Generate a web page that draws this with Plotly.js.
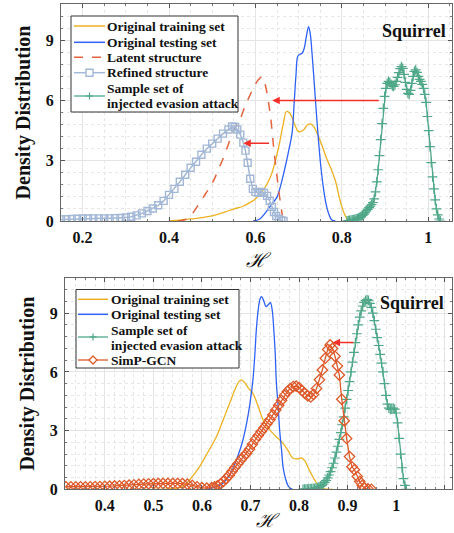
<!DOCTYPE html>
<html><head><meta charset="utf-8">
<script src="https://cdn.plot.ly/plotly-3.0.1.min.js"></script>
<style>html,body{margin:0;padding:0;background:#fff;}#g{width:454px;height:533px;}</style>
</head><body><div id="g"></div>
<script>
// ---------- TOP PANEL ----------
const topTrainX = [0.40,0.45,0.50,0.53,0.55,0.57,0.59,0.605,0.62,0.635,0.645,0.655,0.665,0.672,0.68,0.69,0.70,0.71,0.72,0.727,0.735,0.745,0.755,0.765,0.775,0.785,0.795,0.805,0.815];
const topTrainY = [0,0.1,0.25,0.45,0.6,0.72,0.95,1.2,1.6,2.2,2.9,3.8,4.9,5.45,5.35,4.85,4.45,4.5,4.78,4.83,4.7,4.25,3.7,3.1,2.6,2.0,1.1,0.4,0];

const topTestX = [0.595,0.61,0.623,0.635,0.65,0.66,0.669,0.678,0.685,0.69,0.694,0.698,0.703,0.708,0.713,0.718,0.723,0.727,0.731,0.735,0.739,0.746,0.751,0.757,0.763,0.769,0.777,0.785];
const topTestY = [0,0.1,0.4,0.75,1.2,1.9,2.7,3.6,4.4,6.0,7.3,8.2,8.3,8.35,8.6,9.2,9.67,9.3,8.35,7.2,6.0,4.0,2.8,1.7,0.9,0.4,0.05,0];

const latentX = [0.42,0.435,0.447,0.457,0.468,0.48,0.492,0.504,0.515,0.527,0.537,0.546,0.556,0.565,0.575,0.585,0.595,0.604,0.61,0.615,0.621,0.627,0.631,0.635,0.642,0.65,0.658,0.665,0.67];
const latentY = [0,0.05,0.2,0.45,0.8,1.2,1.6,2.05,2.6,3.2,3.8,4.35,4.75,5.1,5.65,6.15,6.6,6.95,7.1,7.18,6.9,6.35,5.8,5.2,3.7,2.2,0.9,0.1,0];

const refinedX = [0.15,0.1625,0.175,0.1875,0.2,0.2125,0.225,0.2375,0.25,0.2625,0.275,0.2875,0.3,0.3125,0.325,0.3375,0.35,0.3625,0.375,0.3875,0.4,0.4125,0.425,0.4375,0.45,0.4625,0.475,0.4875,0.5,0.5125,0.525,0.5375,0.546,0.553,0.558,0.565,0.572,0.577,0.582,0.588,0.594,0.6,0.607,0.614,0.62,0.627,0.633,0.638,0.643,0.648,0.654,0.66,0.665];
const refinedY = [0.08,0.09,0.1,0.11,0.12,0.12,0.13,0.13,0.13,0.13,0.14,0.15,0.17,0.21,0.28,0.38,0.5,0.62,0.78,1.0,1.3,1.6,1.95,2.3,2.65,2.95,3.3,3.6,3.85,4.1,4.35,4.55,4.7,4.68,4.55,4.3,3.9,3.5,2.9,2.1,1.6,1.45,1.4,1.45,1.4,1.25,1.0,0.7,0.45,0.25,0.1,0.03,0];

const topAttackX = [0.812,0.815,0.818,0.821,0.824,0.827,0.830,0.833,0.836,0.839,0.842,0.845,0.848,0.851,0.854,0.857,0.860,0.863,0.866,0.869,0.872,0.875,0.878,0.881,0.884,0.887,0.890,0.893,0.896,0.899,0.902,0.905,0.908,0.911,0.914,0.917,0.920,0.923,0.926,0.929,0.932,0.935,0.938,0.941,0.944,0.947,0.950,0.953,0.956,0.959,0.962,0.965,0.968,0.971,0.974,0.977,0.980,0.983,0.986,0.989,0.992,0.995,0.998,1.001,1.004,1.007,1.010,1.013,1.016,1.019,1.022,1.025,1.028];
const topAttackY = [0,0.02,0.03,0.04,0.05,0.07,0.08,0.1,0.12,0.15,0.19,0.23,0.28,0.34,0.41,0.5,0.58,0.66,0.74,0.82,0.92,1.1,1.45,1.95,2.55,3.25,4.05,4.85,5.6,6.2,6.6,6.85,6.95,6.9,6.8,6.72,6.7,6.78,6.95,7.15,7.38,7.58,7.68,7.6,7.3,6.9,6.55,6.35,6.3,6.5,6.85,7.2,7.45,7.52,7.4,7.2,7.05,6.95,6.8,6.6,6.3,5.9,5.2,4.5,3.7,2.9,2.2,1.6,1.05,0.6,0.3,0.1,0];

// ---------- BOTTOM PANEL ----------
const botTrainX = [0.50,0.53,0.555,0.568,0.58,0.595,0.61,0.63,0.643,0.657,0.668,0.676,0.681,0.688,0.695,0.705,0.715,0.726,0.736,0.746,0.757,0.767,0.777,0.787,0.797,0.805,0.812,0.818,0.825,0.832,0.84,0.849,0.87];
const botTrainY = [0,0.02,0.1,0.3,0.65,1.15,1.8,2.7,3.5,4.4,5.1,5.5,5.59,5.45,5.2,4.9,4.3,3.54,3.15,2.86,2.6,2.35,2.0,1.6,1.55,1.6,1.45,1.15,0.8,0.48,0.2,0.05,0];

const botTestX = [0.609,0.625,0.64,0.65,0.661,0.671,0.682,0.692,0.699,0.705,0.709,0.712,0.716,0.72,0.723,0.727,0.732,0.737,0.741,0.745,0.748,0.751,0.753,0.757,0.76,0.764,0.767,0.772,0.777,0.782,0.787];
const botTestY = [0,0.1,0.25,0.48,0.9,1.5,2.3,3.37,4.4,5.59,6.9,8.14,9.2,9.75,9.85,9.65,9.34,9.45,9.54,9.1,8.14,6.9,5.59,4.2,3.03,2.0,1.15,0.55,0.2,0.05,0];

const botAttackX = [0.808,0.811,0.814,0.817,0.820,0.823,0.826,0.829,0.832,0.835,0.838,0.841,0.844,0.847,0.850,0.853,0.856,0.859,0.862,0.865,0.868,0.871,0.874,0.877,0.880,0.883,0.886,0.889,0.892,0.895,0.898,0.901,0.904,0.907,0.910,0.913,0.916,0.919,0.922,0.925,0.928,0.931,0.934,0.937,0.940,0.943,0.946,0.949,0.952,0.955,0.958,0.961,0.964,0.967,0.970,0.973,0.976,0.979,0.982,0.985,0.988,0.991,0.994,0.997,1.000,1.003,1.006,1.009,1.012,1.015,1.018,1.021];
const botAttackY = [0,0.01,0.01,0.02,0.02,0.03,0.03,0.04,0.05,0.07,0.09,0.12,0.16,0.21,0.27,0.35,0.45,0.58,0.73,0.9,1.1,1.33,1.6,1.9,2.2,2.55,2.9,3.3,3.7,4.15,4.6,5.05,5.5,6.0,6.5,7.0,7.5,7.95,8.4,8.8,9.12,9.37,9.55,9.66,9.7,9.66,9.5,9.3,9.0,8.62,8.18,7.75,7.35,6.9,6.45,6.0,5.4,4.8,4.35,4.15,4.08,4.1,4.15,4.1,3.9,3.4,2.6,1.8,1.1,0.55,0.2,0];

const simpX = [0.32,0.33,0.34,0.35,0.36,0.37,0.38,0.39,0.40,0.41,0.42,0.43,0.44,0.45,0.46,0.47,0.48,0.49,0.50,0.51,0.52,0.53,0.54,0.55,0.56,0.57,0.58,0.59,0.60,0.61,0.62,0.626,0.632,0.638,0.644,0.65,0.656,0.662,0.668,0.674,0.68,0.686,0.692,0.698,0.704,0.71,0.716,0.722,0.728,0.734,0.74,0.746,0.752,0.758,0.764,0.77,0.776,0.782,0.788,0.794,0.80,0.806,0.812,0.818,0.824,0.83,0.836,0.842,0.848,0.854,0.859,0.864,0.869,0.874,0.879,0.883,0.888,0.893,0.898,0.904,0.909,0.914,0.92,0.925,0.93,0.935,0.942,0.949];
const simpY = [0.13,0.13,0.13,0.13,0.13,0.13,0.14,0.14,0.15,0.16,0.17,0.18,0.19,0.21,0.23,0.25,0.27,0.28,0.29,0.3,0.3,0.3,0.3,0.3,0.29,0.26,0.2,0.13,0.08,0.06,0.08,0.12,0.18,0.27,0.4,0.55,0.72,0.92,1.12,1.3,1.5,1.67,1.84,2.05,2.3,2.55,2.75,2.95,3.15,3.35,3.55,3.8,4.05,4.3,4.55,4.8,5.0,5.15,5.25,5.27,5.2,5.05,4.9,4.78,4.72,4.85,5.15,5.6,6.1,6.7,7.15,7.38,7.2,6.8,6.3,5.84,4.6,3.5,2.6,1.67,1.15,1.0,0.65,0.4,0.2,0.05,0.02,0];

// ---------- labels ----------
const lblTrain = "Original training set";
const lblTest = "Original testing set";
const lblLatent = "Latent structure";
const lblRefined = "Refined structure";
const lblAttack1 = "Sample set of";
const lblAttack2 = "injected evasion attack";
const lblSimp = "SimP-GCN";
const panelName = "Squirrel";
const yTitle = "Density Distribution";
const xTitle = "ℋ";
const topTicks = [0.2,0.4,0.6,0.8,1];
const topTickText = ["0.2","0.4","0.6","0.8","1"];
const botTicks = [0.4,0.5,0.6,0.7,0.8,0.9,1.0,1.1];
const botTickText = ["0.4","0.5","0.6","0.7","0.8","0.9","1","1.1"];
const yTicks = [0,3,6,9];

const C = {train:'#EDB120', test:'#2E62F5', latent:'#E4643E', refined:'#A3B8D6', attack:'#4FA888', simp:'#DD5A2B'};
const serif = 'Liberation Serif, Times New Roman, serif';

const traces = [
  {x:topTrainX,y:topTrainY,name:lblTrain,mode:'lines',line:{color:C.train,width:1.3,shape:'spline'},xaxis:'x',yaxis:'y'},
  {x:topTestX,y:topTestY,name:lblTest,mode:'lines',line:{color:C.test,width:1.3,shape:'spline'},xaxis:'x',yaxis:'y'},
  {x:latentX,y:latentY,name:lblLatent,mode:'lines',line:{color:C.latent,width:1.5,dash:'dash',shape:'spline'},xaxis:'x',yaxis:'y'},
  {x:refinedX,y:refinedY,name:lblRefined,mode:'lines+markers',line:{color:C.refined,width:1.5},marker:{symbol:'square-open',size:7,color:C.refined,line:{width:1.4}},xaxis:'x',yaxis:'y'},
  {x:topAttackX,y:topAttackY,name:'attack',mode:'lines+markers',line:{color:C.attack,width:1.3},marker:{symbol:'cross-thin-open',size:7,color:C.attack,line:{width:1.2,color:C.attack}},xaxis:'x',yaxis:'y'},

  {x:botTrainX,y:botTrainY,name:lblTrain,mode:'lines',line:{color:C.train,width:1.3,shape:'spline'},xaxis:'x2',yaxis:'y2'},
  {x:botTestX,y:botTestY,name:lblTest,mode:'lines',line:{color:C.test,width:1.3,shape:'spline'},xaxis:'x2',yaxis:'y2'},
  {x:botAttackX,y:botAttackY,name:'attack',mode:'lines+markers',line:{color:C.attack,width:1.3},marker:{symbol:'cross-thin-open',size:7,color:C.attack,line:{width:1.2,color:C.attack}},xaxis:'x2',yaxis:'y2'},
  {x:simpX,y:simpY,name:lblSimp,mode:'lines+markers',line:{color:C.simp,width:1.3},marker:{symbol:'diamond-open',size:8,color:C.simp,line:{width:1.3}},xaxis:'x2',yaxis:'y2'}
];

const tickFont = {family:serif,size:16,color:'#111',weight:'bold'};
function xAx(domain, range, tv, tt, minorD, anchor, withTitle){
  const a = {domain:domain, range:range, anchor:anchor, tickmode:'array', tickvals:tv, ticktext:tt,
    ticks:'inside', ticklen:4, tickcolor:'#555', showline:true, linecolor:'#666', linewidth:1, mirror:'ticks',
    showgrid:true, gridcolor:'#e4e4e4', gridwidth:1, zeroline:false, tickfont:tickFont, ticklabelstandoff:2,
    minor:{dtick:minorD, showgrid:true, gridcolor:'#e6e6e6', griddash:'dot', ticks:'inside', ticklen:2, tickcolor:'#777'}};
  if (withTitle) a.title = {text:xTitle, font:{family:'DejaVu Serif, serif', size:20, color:'#111', style:'italic'}, standoff:7};
  return a;
}
function yAx(domain, anchor){
  return {domain:domain, range:[0,10.8], anchor:anchor, tickmode:'array', tickvals:yTicks,
    ticks:'inside', ticklen:4, tickcolor:'#555', showline:true, linecolor:'#666', linewidth:1, mirror:'ticks',
    showgrid:true, gridcolor:'#e4e4e4', zeroline:false, tickfont:tickFont, ticklabelstandoff:3,
    minor:{dtick:0.6, showgrid:true, gridcolor:'#e6e6e6', griddash:'dot', ticks:'inside', ticklen:2, tickcolor:'#777'},
    title:{text:yTitle, font:{family:serif, size:20, color:'#111', weight:'bold'}, standoff:9}};
}
const arrow = (x,y,ax,ay,xr,yr)=>({x:x,y:y,ax:ax,ay:ay,xref:xr,yref:yr,axref:xr,ayref:yr,text:'',showarrow:true,arrowhead:2,arrowsize:1,arrowwidth:1.5,arrowcolor:'#F2302A',standoff:0,startstandoff:0});

// ----- hand-built legends (pixel positions -> paper fractions) -----
const W = 454, H = 533;
const px = v => v / W, py = v => 1 - v / H;
const legShapes = [];
const legAnn = [];
const legFont = {family:serif, size:13.5, color:'#111', weight:'bold'};
function box(x0,y0,x1,y1){ legShapes.push({type:'rect',xref:'paper',yref:'paper',x0:px(x0),x1:px(x1),y0:py(y1),y1:py(y0),line:{color:'#333',width:1},fillcolor:'#fff',layer:'above'}); }
function seg(x0,x1,y,color,dash,w){ legShapes.push({type:'line',xref:'paper',yref:'paper',x0:px(x0),x1:px(x1),y0:py(y),y1:py(y),line:{color:color,width:w||1.5,dash:dash||'solid'},layer:'above'}); }
function sq(cx,cy,s,color){ legShapes.push({type:'rect',xref:'paper',yref:'paper',x0:px(cx-s),x1:px(cx+s),y0:py(cy+s),y1:py(cy-s),line:{color:color,width:1.4},fillcolor:'#fff',layer:'above'}); }
function plus(cx,cy,s,color){ seg(cx-s,cx+s,cy,color,'solid',1.2); legShapes.push({type:'line',xref:'paper',yref:'paper',x0:px(cx),x1:px(cx),y0:py(cy-s),y1:py(cy+s),line:{color:color,width:1.2},layer:'above'}); }
function dia(cx,cy,s,color){ legShapes.push({type:'path',xref:'paper',yref:'paper',path:`M ${px(cx)} ${py(cy-s)} L ${px(cx+s)} ${py(cy)} L ${px(cx)} ${py(cy+s)} L ${px(cx-s)} ${py(cy)} Z`,line:{color:color,width:1.3},fillcolor:'#fff',layer:'above'}); }
function txt(x,y,t){ legAnn.push({xref:'paper',yref:'paper',x:px(x),y:py(y),text:t,showarrow:false,xanchor:'left',yanchor:'middle',font:legFont}); }

// top legend
box(71,16,238,112);
seg(74,105,26,C.train); txt(105,26.5,lblTrain);
seg(74,105,42.3,C.test); txt(105,42.5,lblTest);
seg(74,105,57.3,C.latent,'dash'); txt(105,57.5,lblLatent);
seg(74,105,72.7,C.refined); sq(89.5,72.7,3.5,C.refined); txt(105,73,lblRefined);
seg(74,105,96,C.attack,'solid',1.3); plus(89.5,96,3.5,C.attack); txt(105,88.5,lblAttack1); txt(105,104,lblAttack2);
// bottom legend
box(76,289.5,239,368);
seg(78,108,299.3,C.train); txt(109,299.5,lblTrain);
seg(78,108,314.3,C.test); txt(109,314.5,lblTest);
seg(78,108,337,C.attack,'solid',1.3); plus(93,337,3.5,C.attack); txt(109,330,lblAttack1); txt(109,345,lblAttack2);
seg(78,108,360,C.simp,'solid',1.3); dia(93,360,4,C.simp); txt(109,360,lblSimp);

const layout = {
  width:W, height:H, margin:{l:0,r:0,t:0,b:0}, paper_bgcolor:'#fff', plot_bgcolor:'#fff',
  xaxis: xAx([0.1344,0.9956],[0.15,1.055],topTicks,topTickText,0.05,'y',true),
  yaxis: yAx([0.5854,0.9925],'x'),
  xaxis2: xAx([0.1432,0.9956],[0.318,1.115],botTicks,botTickText,0.02,'y2',false),
  yaxis2: yAx([0.082,0.4784],'x2'),
  showlegend:false,
  shapes: legShapes,
  annotations:[
    {x:1.045,y:9.45,xref:'x',yref:'y',text:panelName,showarrow:false,xanchor:'right',font:{family:serif,size:18,color:'#111',weight:'bold'}},
    {x:1.102,y:9.54,xref:'x2',yref:'y2',text:panelName,showarrow:false,xanchor:'right',font:{family:serif,size:18,color:'#111',weight:'bold'}},
    {xref:'paper',yref:'paper',x:px(268),y:0,xanchor:'center',yanchor:'bottom',text:xTitle,showarrow:false,font:{family:'DejaVu Serif, serif',size:19,color:'#111',style:'italic'}},
    arrow(0.639,6.0,0.889,6.0,'x','y'),
    arrow(0.572,3.87,0.635,3.87,'x','y'),
    arrow(0.869,7.5,0.915,7.5,'x2','y2')
  ].concat(legAnn)
};
Plotly.newPlot('g', traces, layout, {displayModeBar:false, staticPlot:true});
</script></body></html>
